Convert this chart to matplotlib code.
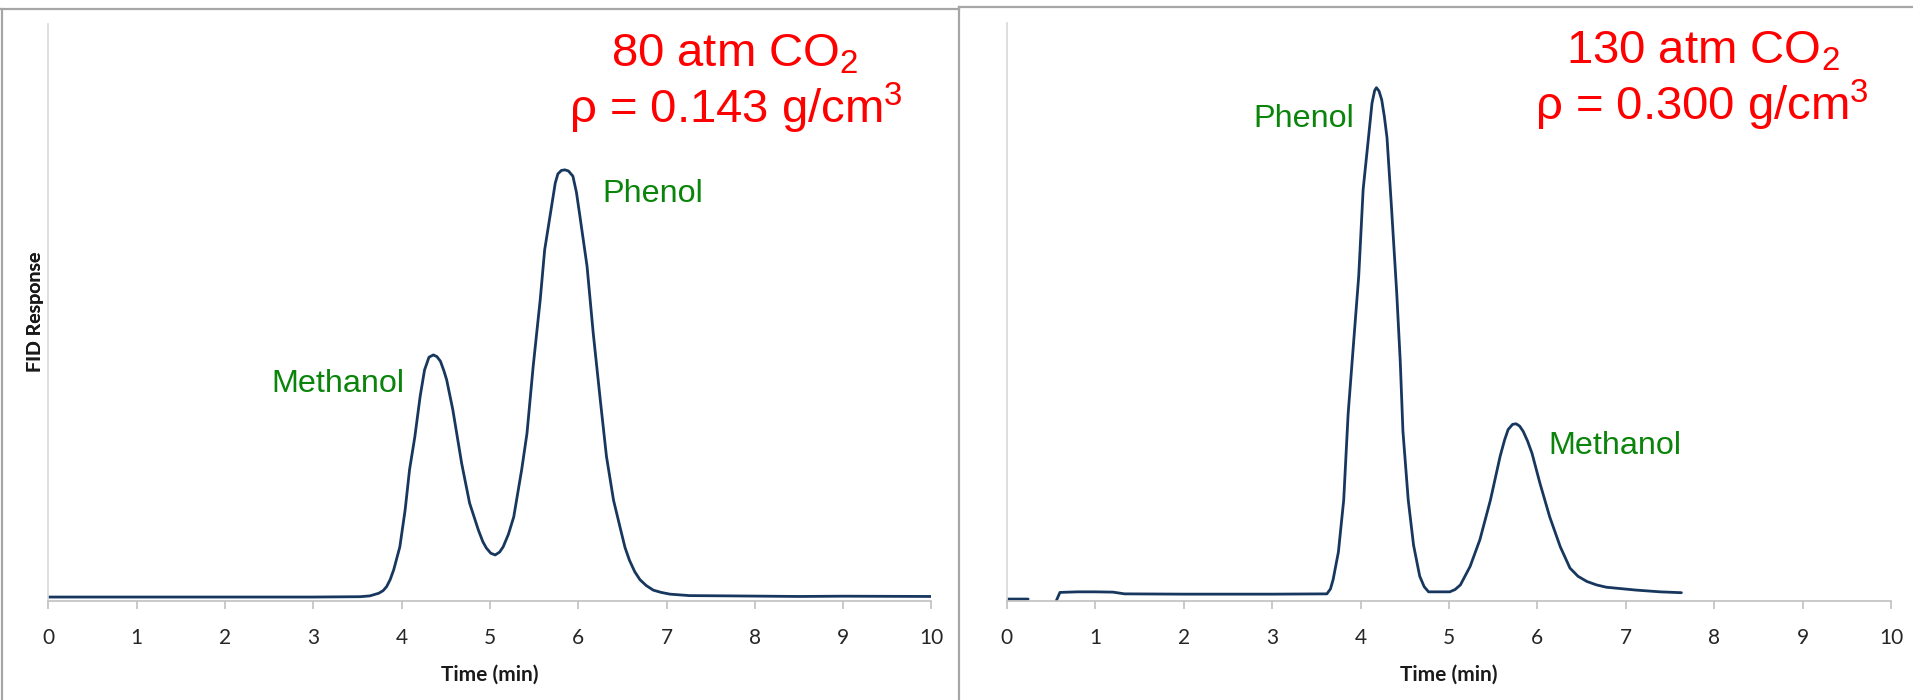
import numpy as np
import matplotlib as mpl
mpl.use('Agg')
import matplotlib.pyplot as plt
from matplotlib.lines import Line2D

plt.rcParams['mathtext.fontset'] = 'custom'
plt.rcParams['mathtext.rm'] = 'Liberation Sans'
plt.rcParams['mathtext.it'] = 'Liberation Sans'
plt.rcParams['mathtext.bf'] = 'Liberation Sans'

# chromatogram traces (time in min, response in arb. units 0-100)
left_time = [0, 1, 2, 3, 3.53, 3.64, 3.74, 3.79, 3.83, 3.87, 3.91, 3.98, 4.04, 4.09,
             4.15, 4.21, 4.26, 4.31, 4.36, 4.40, 4.44, 4.48, 4.51, 4.58, 4.68, 4.77,
             4.87, 4.92, 4.96, 5.01, 5.06, 5.11, 5.15, 5.21, 5.27, 5.36, 5.42, 5.49,
             5.57, 5.62, 5.68, 5.74, 5.77, 5.81, 5.85, 5.89, 5.94, 5.98, 6.02, 6.10,
             6.17, 6.25, 6.32, 6.40, 6.49, 6.53, 6.58, 6.64, 6.70, 6.77, 6.85, 6.94,
             7.04, 7.26, 7.72, 8.5, 9.0, 10.0]
left_resp = [0.6, 0.6, 0.6, 0.6, 0.66, 0.8, 1.25, 1.7, 2.4, 3.6, 5.3, 9.3, 15.7, 22.7,
             28.4, 35.4, 40.0, 42.2, 42.6, 42.3, 41.5, 39.8, 38.3, 33.1, 23.8, 16.9,
             12.2, 10.2, 9.1, 8.2, 7.9, 8.4, 9.3, 11.5, 14.5, 22.7, 29.0, 40.6,
             52.2, 60.8, 66.6, 72.4, 74.0, 74.6, 74.7, 74.5, 73.6, 70.8, 66.6, 58.0,
             46.4, 34.8, 25.0, 17.4, 11.7, 9.2, 7.0, 5.0, 3.6, 2.6, 1.8, 1.4,
             1.1, 0.85, 0.8, 0.7, 0.75, 0.7]

right_time = [0, 0.24, np.nan, 0.56, 0.60, 0.8, 1.0, 1.2, 1.33, 2.0, 3.0, 3.62, 3.66,
              3.69, 3.75, 3.81, 3.86, 3.92, 3.98, 4.03, 4.09, 4.13, 4.16, 4.18, 4.21,
              4.24, 4.27, 4.30, 4.35, 4.41, 4.45, 4.48, 4.54, 4.60, 4.64, 4.67, 4.72,
              4.77, 5.01, 5.07, 5.13, 5.24, 5.35, 5.47, 5.58, 5.63, 5.67, 5.72, 5.76,
              5.80, 5.84, 5.89, 5.94, 6.03, 6.14, 6.26, 6.37, 6.46, 6.56, 6.67, 6.78,
              7.12, 7.39, 7.63]
right_resp = [0.25, 0.25, np.nan, 0.0, 1.4, 1.5, 1.5, 1.45, 1.15, 1.1, 1.1, 1.15, 2.0,
              3.6, 8.4, 17.4, 32.3, 44.3, 56.2, 71.2, 80.1, 86.1, 88.3, 88.8, 88.2,
              86.7, 83.8, 80.1, 68.2, 53.2, 41.3, 29.3, 17.4, 9.6, 6.5, 4.2, 2.4,
              1.5, 1.5, 1.9, 2.7, 5.9, 10.5, 17.4, 25.0, 27.8, 29.6, 30.5, 30.6,
              30.2, 29.3, 27.6, 25.5, 20.3, 14.5, 9.3, 5.6, 4.2, 3.3, 2.7, 2.3,
              1.8, 1.5, 1.35]

xticks = list(range(0, 11))
line_color = '#17375e'
W, H = 1913, 700

fig = plt.figure(figsize=(W / 100, H / 100), dpi=100)

def px(x, y):
    return x / W, 1 - y / H

panels = [
    dict(rect=(48.4, 931.4, 24, 600.5), t=left_time, r=left_resp,
         labels=[('Methanol', 2.53, 36.25), ('Phenol', 6.27, 69.1)],
         title=[('80 atm CO$_2$', 735, 66.7), ('ρ = 0.143 g/cm$^3$', 735.8, 123.3)]),
    dict(rect=(1006.9, 1890.9, 23, 600.5), t=right_time, r=right_resp,
         labels=[('Phenol', 2.79, 82.0), ('Methanol', 6.12, 25.3)],
         title=[('130 atm CO$_2$', 1703, 63.3), ('ρ = 0.300 g/cm$^3$', 1701.7, 120)]),
]

for p in panels:
    x0, x1, ytop, ybot = p['rect']
    ax = fig.add_axes([x0 / W, 1 - ybot / H, (x1 - x0) / W, (ybot - ytop) / H])
    ax.plot(p['t'], p['r'], color=line_color, lw=2.0, solid_capstyle='round',
            solid_joinstyle='round')
    ax.set_xlim(0, 10)
    ax.set_ylim(0, 100)
    ax.set_xticks(xticks)
    ax.set_yticks([])
    for s in ('top', 'right'):
        ax.spines[s].set_visible(False)
    ax.spines['left'].set_color('#d9d9d9')
    ax.spines['bottom'].set_color('#c0c0c0')
    ax.spines['left'].set_linewidth(1.2)
    ax.spines['bottom'].set_linewidth(1.2)
    ax.tick_params(axis='x', direction='out', length=6, width=1.2, color='#c0c0c0',
                   pad=14, labelsize=15, labelcolor='#262626')
    for lab in ax.get_xticklabels():
        lab.set_fontfamily('Lato')
    ax.set_xlabel('Time (min)', fontfamily='Lato', fontweight='bold', fontsize=15, color='#1a1a1a')
    ax.xaxis.set_label_coords(0.5, (ybot - 675) / (ybot - ytop))
    ax.xaxis.label.set_va('center')
    ax.set_ylabel('FID Response', fontfamily='Lato', fontweight='bold', fontsize=14, color='#1a1a1a')
    ax.yaxis.set_label_coords((35 - x0) / (x1 - x0), 0.5)
    ax.yaxis.label.set_va('center')
    for txt, tx, ty in p['labels']:
        ax.text(tx, ty, txt, color='#0a840a', fontsize=23.3, family='Liberation Sans',
                ha='left', va='baseline')
    for txt, cx, by in p['title']:
        fx, fy = px(cx, by)
        fig.text(fx, fy, txt, color='#ff0000', fontsize=34, family='Liberation Sans',
                 ha='center', va='baseline')

# panel borders
border = '#a6a6a6'
for (xa, ya, xb, yb) in [(0, 9, 959, 9), (959, 7, 1913, 7), (959, 7, 959, 700), (2, 9, 2, 700)]:
    (fxa, fya), (fxb, fyb) = px(xa, ya), px(xb, yb)
    fig.add_artist(Line2D([fxa, fxb], [fya, fyb], transform=fig.transFigure,
                          color=border, lw=1.6))

fig.savefig('out.png', dpi=100)
